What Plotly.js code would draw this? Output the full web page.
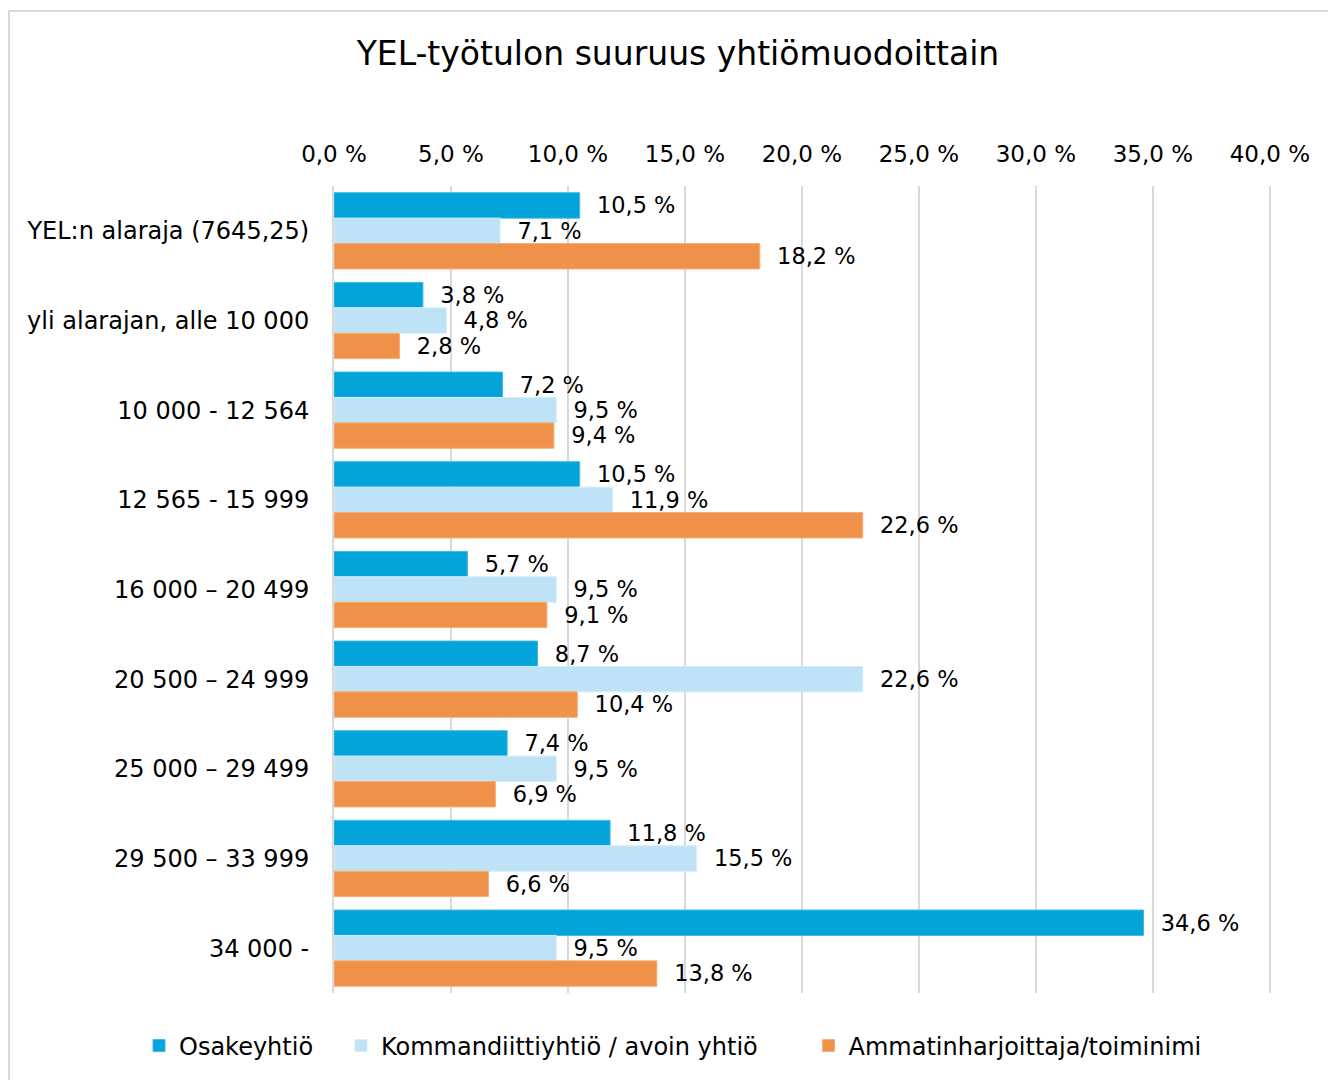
<!DOCTYPE html>
<html>
<head>
<meta charset="utf-8">
<script src="https://cdn.plot.ly/plotly-3.0.1.min.js"></script>
<style>
html,body{margin:0;padding:0;background:#fff;}
#frame{position:absolute;left:8px;top:10px;width:1330px;height:1080px;border:2px solid #d9d9d9;box-sizing:border-box;}
#chart{position:absolute;left:0;top:0;width:1328px;height:1080px;}
</style>
</head>
<body>
<div id="frame"></div>
<div id="chart"></div>
<script>
const categories = [
  "YEL:n alaraja (7645,25)",
  "yli alarajan, alle 10 000",
  "10 000 - 12 564",
  "12 565 - 15 999",
  "16 000 \u2013 20 499",
  "20 500 \u2013 24 999",
  "25 000 \u2013 29 499",
  "29 500 \u2013 33 999",
  "34 000 -"
];
const seriesNames = ["Osakeyhtiö", "Kommandiittiyhtiö / avoin yhtiö", "Ammatinharjoittaja/toiminimi"];
const osakeyhtio = [10.5, 3.8, 7.2, 10.5, 5.7, 8.7, 7.4, 11.8, 34.6];
const kommandiitti = [7.1, 4.8, 9.5, 11.9, 9.5, 22.6, 9.5, 15.5, 9.5];
const ammatin = [18.2, 2.8, 9.4, 22.6, 9.1, 10.4, 6.9, 6.6, 13.8];
const tickVals = [0, 5, 10, 15, 20, 25, 30, 35, 40];
const tickText = tickVals.map(v => v.toFixed(1).replace(".", ",") + " %");

const colors = ["#02A4DA", "#BEE3F6", "#F0914A"];
const lineColors = ["#3fb8e3", "#d3edf9", "#f5ae7a"];
const FONT = "'DejaVu Sans', Verdana, sans-serif";
const NB = "\u00a0";
const legendPad = [3, 6, 0];

const values = [osakeyhtio, kommandiitti, ammatin];
const traces = values.map((v, i) => ({
  type: "bar",
  orientation: "h",
  name: seriesNames[i] + NB.repeat(legendPad[i]),
  x: v,
  y: categories,
  marker: {color: colors[i], line: {color: lineColors[i], width: 1}},
  texttemplate: NB + NB + "%{x:.1f} %",
  textposition: "outside",
  cliponaxis: false,
  textfont: {family: FONT, size: 23, color: "#000"},
  hoverinfo: "x+y"
}));

const layout = {
  width: 1328,
  height: 1080,
  margin: {l: 334, r: 57, t: 186, b: 87},
  paper_bgcolor: "rgba(0,0,0,0)",
  plot_bgcolor: "rgba(0,0,0,0)",
  separators: ", ",
  font: {family: FONT, size: 24, color: "#000"},
  title: {
    text: "YEL-työtulon suuruus yhtiömuodoittain",
    font: {family: FONT, size: 33, color: "#000"},
    x: 0.5105, xanchor: "center",
    y: 1 - 53/1080, yanchor: "middle", yref: "container"
  },
  barmode: "group",
  bargap: 0.15,
  bargroupgap: 0,
  xaxis: {
    side: "top",
    range: [0, 40.05],
    tickmode: "array",
    tickvals: tickVals,
    ticktext: tickText,
    showgrid: true,
    gridcolor: "#d9d9d9",
    gridwidth: 2,
    zeroline: false,
    showline: false,
    ticks: "outside",
    ticklen: 14,
    tickcolor: "rgba(0,0,0,0)",
    tickfont: {family: FONT, size: 23, color: "#000"},
    fixedrange: true
  },
  yaxis: {
    autorange: "reversed",
    type: "category",
    showgrid: false,
    zeroline: false,
    showline: true,
    linecolor: "#d9d9d9",
    linewidth: 2,
    ticks: "outside",
    ticklen: 18,
    tickcolor: "rgba(0,0,0,0)",
    tickfont: {family: FONT, size: 24, color: "#000"},
    fixedrange: true
  },
  legend: {
    orientation: "h",
    x: (139 - 334) / 937, xanchor: "left",
    y: -53 / 807, yanchor: "middle",
    itemwidth: 30,
    font: {family: FONT, size: 24, color: "#000"},
    traceorder: "normal"
  },
  showlegend: true
};

Plotly.newPlot("chart", traces, layout, {displayModeBar: false, staticPlot: true});
</script>
</body>
</html>
